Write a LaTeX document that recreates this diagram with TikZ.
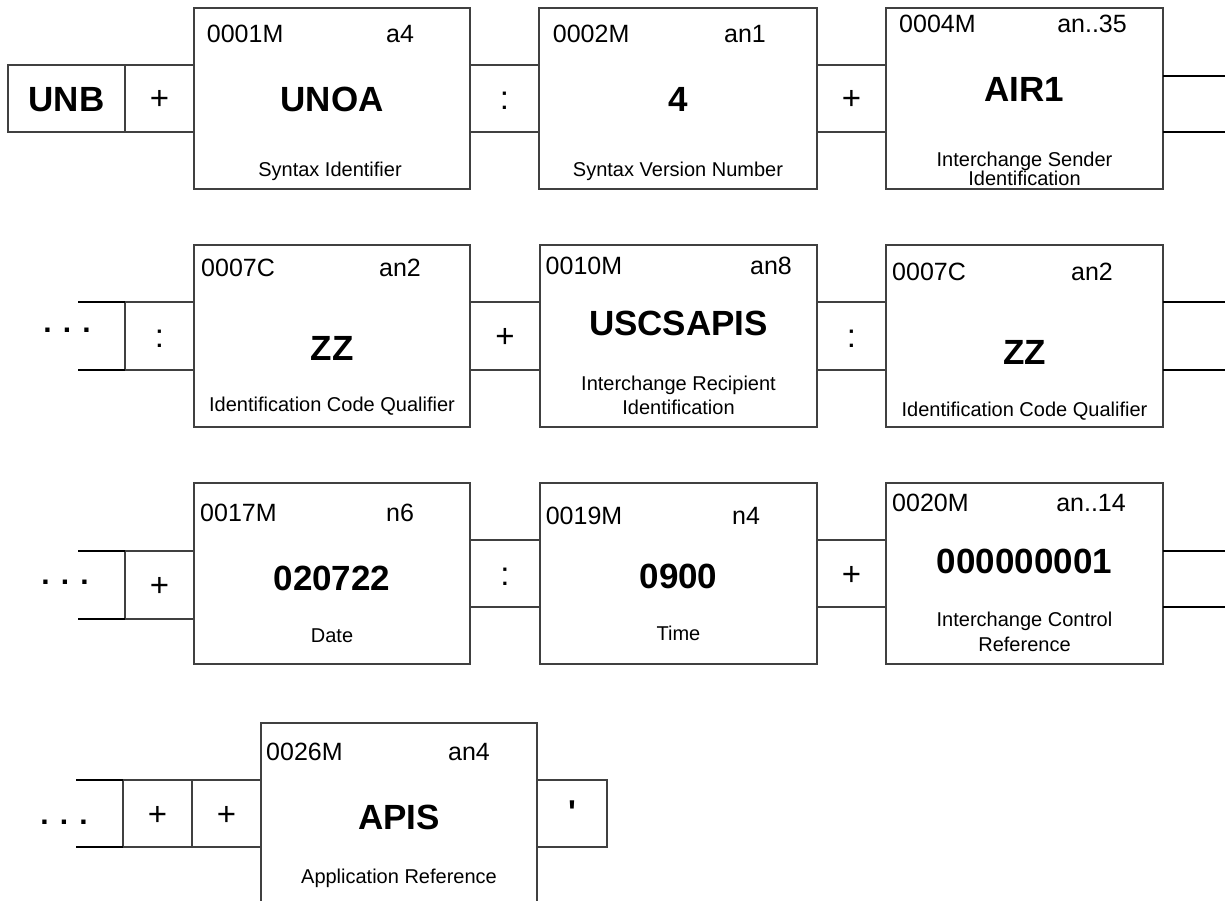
\documentclass[tikz,border=0pt]{standalone}
\usepackage{fontspec}
\setmainfont{Liberation Sans}
\begin{document}
\begin{tikzpicture}[x=1pt,y=-1pt,
  box/.style={draw=black!75, line width=1.2pt, minimum width=276pt, inner sep=0pt, outer sep=0pt, anchor=north west},
  sepbox/.style={draw=black!75, line width=1.2pt, inner sep=0pt, outer sep=0pt, anchor=north west},
  openbox/.style={minimum width=276pt, inner sep=0pt, outer sep=0pt, anchor=north west},
  hdr/.style={font=\fontsize{25}{30}\selectfont, inner sep=0pt, anchor=base west},
  typ/.style={font=\fontsize{25}{30}\selectfont, inner sep=0pt, anchor=base},
  val/.style={font=\bfseries\fontsize{35}{42}\selectfont, inner sep=0pt, anchor=base},
  dsc/.style={font=\fontsize{20}{24}\selectfont, inner sep=0pt, anchor=base},
  sym/.style={font=\fontsize{33}{38}\selectfont, inner sep=0pt, anchor=base},
  dotstxt/.style={font=\bfseries\fontsize{30}{36}\selectfont, inner sep=0pt, anchor=base},
  dangle/.style={line width=1.6pt, draw=black}
]
\useasboundingbox (0,0) rectangle (1225,901);

% ---------------- Row 1 ----------------
\node[sepbox, minimum width=117pt, minimum height=67pt] (unb) at (8,65) {};
\node[val] (unbt) at (66.5,111.7) {UNB};
\node[sepbox, minimum width=69pt, minimum height=67pt] (s1) at (125,65) {};
\node[sym] (s1t) at (159.5,110) {+};
\node[box, minimum height=181pt] (b1) at (194,8) {};
\node[hdr] (b1c) at (206.7,43) {0001M};
\node[typ] (b1t) at (400,43) {a4};
\node[val] (b1v) at (332,111.7) {UNOA};
\node[dsc] (b1d) at (330,176.7) {Syntax Identifier};
\node[sepbox, minimum width=69pt, minimum height=67pt] (s2) at (470,65) {};
\node[sym] (s2t) at (504.5,110) {:};
\node[box, minimum width=278pt, minimum height=181pt] (b2) at (539,8) {};
\node[hdr] (b2c) at (552.7,43) {0002M};
\node[typ] (b2t) at (745,43) {an1};
\node[val] (b2v) at (678,111.7) {4};
\node[dsc] (b2d) at (678,176.7) {Syntax Version Number};
\node[sepbox, minimum width=69pt, minimum height=67pt] (s3) at (817,65) {};
\node[sym] (s3t) at (851.5,110) {+};
\node[box, minimum width=277pt, minimum height=181pt] (b3) at (886,8) {};
\node[hdr] (b3c) at (899,32.7) {0004M};
\node[typ] (b3t) at (1092,32.7) {an..35};
\node[val] (b3v) at (1024.5,101.7) {AIR1};
\node[dsc] (b3d1) at (1024.5,166.7) {Interchange Sender};
\node[dsc] (b3d2) at (1024.5,185.7) {Identification};
\coordinate (r1a) at (1225,76);
\coordinate (r1b) at (1225,132);
\draw[dangle] (b3.east |- r1a) -- (r1a);
\draw[dangle] (b3.east |- r1b) -- (r1b);

% ---------------- Row 2 ----------------
\node[dotstxt] (d2) at (67,332.5) {. . .};
\coordinate (l2a) at (78,302);
\coordinate (l2b) at (78,370);
\node[sepbox, minimum width=69pt, minimum height=68pt] (s4) at (125,302) {};
\draw[dangle] (l2a) -- (s4.north west);
\draw[dangle] (l2b) -- (s4.south west);
\node[sym] (s4t) at (159.5,347.5) {:};
\node[box, minimum height=182pt] (b4) at (194,245) {};
\node[hdr] (b4c) at (201,276.7) {0007C};
\node[typ] (b4t) at (400,276.7) {an2};
\node[val] (b4v) at (332,360) {ZZ};
\node[dsc] (b4d) at (332,411.7) {Identification Code Qualifier};
\node[sepbox, minimum width=70pt, minimum height=68pt] (s5) at (470,302) {};
\node[sym] (s5t) at (505,347.5) {+};
\node[box, minimum width=277pt, minimum height=182pt] (b5) at (540,245) {};
\node[hdr] (b5c) at (545.5,274) {0010M};
\node[typ] (b5t) at (771,274) {an8};
\node[val] (b5v) at (678.5,335) {USCSAPIS};
\node[dsc] (b5d1) at (678.5,390) {Interchange Recipient};
\node[dsc] (b5d2) at (678.5,414) {Identification};
\node[sepbox, minimum width=69pt, minimum height=68pt] (s6) at (817,302) {};
\node[sym] (s6t) at (851.5,347.5) {:};
\node[box, minimum width=277pt, minimum height=182pt] (b6) at (886,245) {};
\node[hdr] (b6c) at (892,280) {0007C};
\node[typ] (b6t) at (1092,280) {an2};
\node[val] (b6v) at (1024.5,364) {ZZ};
\node[dsc] (b6d) at (1024.5,416.7) {Identification Code Qualifier};
\coordinate (r2a) at (1225,302);
\coordinate (r2b) at (1225,370);
\draw[dangle] (b6.east |- r2a) -- (r2a);
\draw[dangle] (b6.east |- r2b) -- (r2b);

% ---------------- Row 3 ----------------
\node[dotstxt] (d3) at (65,584.5) {. . .};
\coordinate (l3a) at (78,551);
\coordinate (l3b) at (78,619);
\node[sepbox, minimum width=69pt, minimum height=68pt] (s7) at (125,551) {};
\draw[dangle] (l3a) -- (s7.north west);
\draw[dangle] (l3b) -- (s7.south west);
\node[sym] (s7t) at (159.5,596.5) {+};
\node[box, minimum height=181pt] (b7) at (194,483) {};
\node[hdr] (b7c) at (200,521) {0017M};
\node[typ] (b7t) at (400,521) {n6};
\node[val] (b7v) at (332,590.7) {020722};
\node[dsc] (b7d) at (332,642.7) {Date};
\node[sepbox, minimum width=70pt, minimum height=67pt] (s8) at (470,540) {};
\node[sym] (s8t) at (505,585) {:};
\node[box, minimum width=277pt, minimum height=181pt] (b8) at (540,483) {};
\node[hdr] (b8c) at (545.6,524) {0019M};
\node[typ] (b8t) at (746,524) {n4};
\node[val] (b8v) at (678.5,588) {0900};
\node[dsc] (b8d) at (678.5,640) {Time};
\node[sepbox, minimum width=69pt, minimum height=67pt] (s9) at (817,540) {};
\node[sym] (s9t) at (851.5,585) {+};
\node[box, minimum width=277pt, minimum height=181pt] (b9) at (886,483) {};
\node[hdr] (b9c) at (892,511.7) {0020M};
\node[typ] (b9t) at (1091,511.7) {an..14};
\node[val] (b9v) at (1024.5,573) {000000001};
\node[dsc] (b9d1) at (1024.5,626.7) {Interchange Control};
\node[dsc] (b9d2) at (1024.5,651) {Reference};
\coordinate (r3a) at (1225,551);
\coordinate (r3b) at (1225,607);
\draw[dangle] (b9.east |- r3a) -- (r3a);
\draw[dangle] (b9.east |- r3b) -- (r3b);

% ---------------- Row 4 ----------------
\node[dotstxt] (d4) at (64,824) {. . .};
\coordinate (l4a) at (76,780);
\coordinate (l4b) at (76,847);
\node[sepbox, minimum width=69pt, minimum height=67pt] (s10) at (123,780) {};
\draw[dangle] (l4a) -- (s10.north west);
\draw[dangle] (l4b) -- (s10.south west);
\node[sym] (s10t) at (157.5,825) {+};
\node[sepbox, minimum width=69pt, minimum height=67pt] (s11) at (192,780) {};
\node[sym] (s11t) at (226.5,825) {+};
\node[openbox, minimum height=182pt] (b10) at (261,723) {};
\draw[draw=black!75, line width=1.2pt] (b10.south west) -- (b10.north west) -- (b10.north east) -- (b10.south east);
\node[hdr] (b10c) at (266,760) {0026M};
\node[typ] (b10t) at (469,760) {an4};
\node[val] (b10v) at (399,829) {APIS};
\node[dsc] (b10d) at (399,883) {Application Reference};
\node[sepbox, minimum width=70pt, minimum height=67pt] (s12) at (537,780) {};
\node[sym, font=\bfseries\fontsize{33}{38}\selectfont] (s12t) at (572,823) {\textquotesingle};
\end{tikzpicture}
\end{document}
